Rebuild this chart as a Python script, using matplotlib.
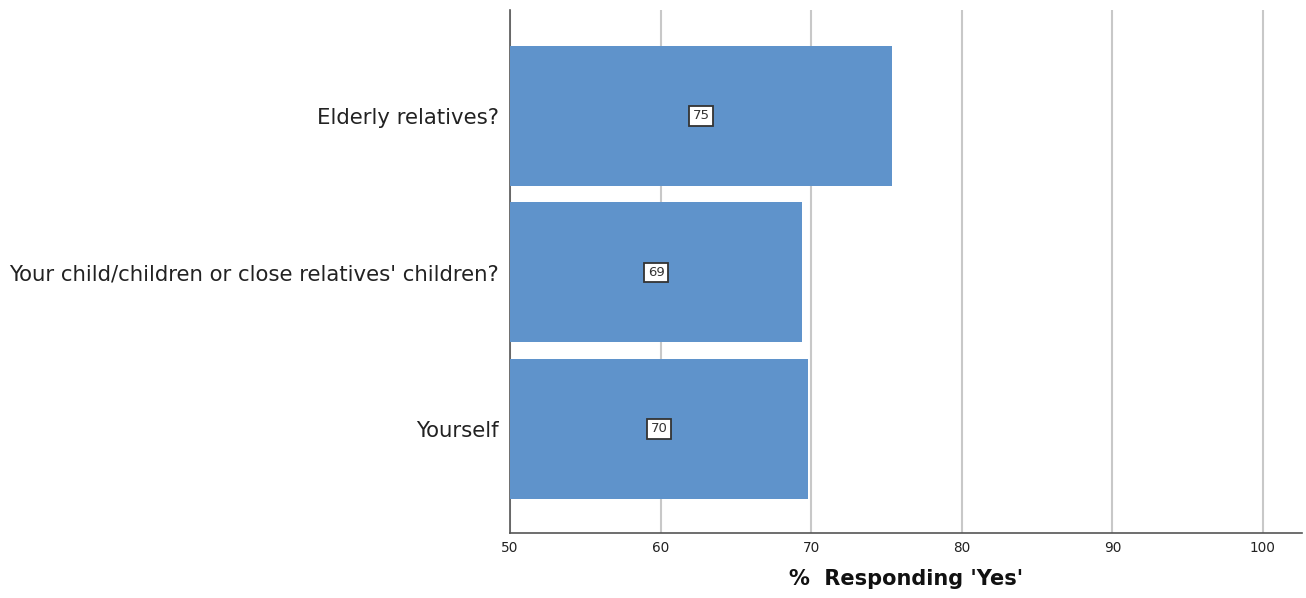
import numpy as np
import matplotlib.pyplot as plt

plt.rcParams['font.family'] = ['DejaVu Sans']

cats = ["Yourself", "Your child/children or close relatives' children?", "Elderly relatives?"]
vals = [69.8, 69.4, 75.4]
labels = ["70", "69", "75"]

fig = plt.figure(figsize=(13.06, 5.98), dpi=100)
ax = fig.add_axes([0.3905, 0.1087, 0.6065, 0.8746])

y = np.arange(len(cats))
base = 50
ax.barh(y, np.array(vals) - base, left=base, height=0.895, color="#5f93cb", zorder=3)

# value labels in small boxes, centred on each bar
for yi, v, lab in zip(y, vals, labels):
    ax.text((base + v) / 2, yi, lab, ha="center", va="center", fontsize=9.5, color="#333333", zorder=4,
            bbox=dict(boxstyle="square,pad=0.25", fc="white", ec="#333333", lw=1.3))

ax.set_xlim(50, 102.6)
ax.set_ylim(-0.665, 2.677)
ax.set_xticks([50, 60, 70, 80, 90, 100])
ax.set_yticks(y)
ax.set_yticklabels(cats, fontsize=15.3, color="#222222")
ax.tick_params(axis="x", length=0, labelsize=9.8, pad=6, colors="#222222")
ax.tick_params(axis="y", length=0, pad=8)
ax.grid(axis="x", color="#c8c8c8", lw=1.5, zorder=0)
for s in ["top", "right"]:
    ax.spines[s].set_visible(False)
for s in ["left", "bottom"]:
    ax.spines[s].set_color("#555555")
    ax.spines[s].set_linewidth(1.2)

ax.set_xlabel("%  Responding 'Yes'", fontsize=15, fontweight="bold", labelpad=10, color="#111111")

fig.savefig("out.png", dpi=100)
